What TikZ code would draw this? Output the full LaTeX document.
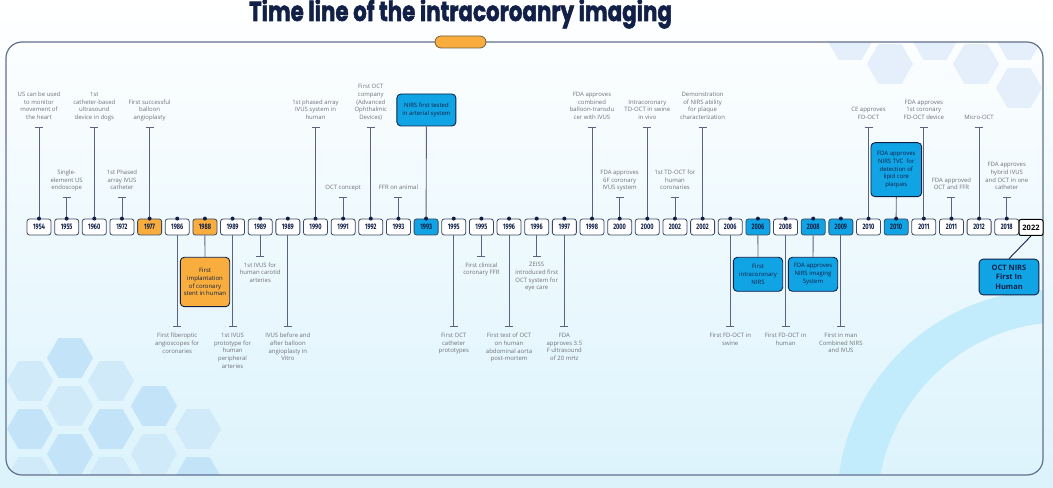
\documentclass[tikz,border=0pt]{standalone}
\usepackage{fontspec}
\setmainfont{Open Sans}
\newfontfamily\titlefont{Poppins}[BoldFeatures={FakeBold=2}]
\newfontfamily\yrfont{Fira Sans}
\usetikzlibrary{arrows.meta}
\definecolor{navy}{RGB}{18,32,72}
\definecolor{stemc}{RGB}{88,100,128}
\definecolor{lblc}{RGB}{112,114,120}
\definecolor{boxc}{RGB}{62,72,98}
\definecolor{orng}{RGB}{248,173,60}
\definecolor{blu}{RGB}{16,164,228}
\definecolor{framec}{RGB}{98,112,142}
\definecolor{bgbot}{RGB}{220,243,252}
\definecolor{bgmid}{RGB}{240,250,254}
\definecolor{hexa}{RGB}{208,234,250}
\definecolor{hexb}{RGB}{194,227,248}
\definecolor{hext}{RGB}{229,239,251}
\definecolor{ringc}{RGB}{194,236,251}
\definecolor{pillb}{RGB}{110,95,70}
\newcommand\Y[1]{\scalebox{0.7}[1]{\yrfont\bfseries #1}}
\tikzset{
 yearbox/.style={draw=boxc, line width=0.8bp, rounded corners=2.5bp, fill=white,
   minimum width=24bp, minimum height=16bp, inner sep=0pt, text=navy,
   font=\fontsize{8}{9}\selectfont},
 yw/.style={},
 yo/.style={fill=orng},
 yb/.style={fill=blu},
 lbl/.style={align=center, text=lblc, font=\fontsize{6}{7.7}\selectfont, inner sep=0pt},
 stem/.style={draw=stemc, line width=0.9bp},
 tstem/.style={stem, -{Bar[width=8bp]}},
 callout/.style={draw=navy, line width=0.9bp, rounded corners=4bp, align=center,
   text=navy, inner sep=1bp, font=\fontsize{6}{7.9}\selectfont},
}
\newcommand\UpLong[2]{%
  \coordinate (t#1) at (y#1.north |- hTa);
  \draw[tstem] (y#1.north) -- (t#1);
  \node[lbl, anchor=base] (l#1) at (y#1.north |- hLa) {#2};}
\newcommand\UpShort[2]{%
  \coordinate (t#1) at (y#1.north |- hTb);
  \draw[tstem] (y#1.north) -- (t#1);
  \node[lbl, anchor=base] (l#1) at (y#1.north |- hLb) {#2};}
\newcommand\DnLong[2]{%
  \coordinate (t#1) at (y#1.south |- hBa);
  \draw[tstem] (y#1.south) -- (t#1);
  \node[lbl, anchor=north] (l#1) at (y#1.south |- hMa) {#2};}
\newcommand\DnShort[2]{%
  \coordinate (t#1) at (y#1.south |- hBb);
  \draw[tstem] (y#1.south) -- (t#1);
  \node[lbl, anchor=north] (l#1) at (y#1.south |- hMb) {#2};}
\begin{document}
\begin{tikzpicture}[x=1bp,y=-1bp]
\useasboundingbox (0,0) rectangle (1053,488);
\shade[top color=white, middle color=bgmid, bottom color=bgbot] (0,0) rectangle (1053,488);
% decorations inside the frame
\begin{scope}
\clip[rounded corners=16bp] (6,42) rectangle (1043,475);
\foreach \x/\y/\c in {30/381/hexa,30/429/hexb,30/477/hexa,70/358/hexb,70/406/hexa,70/454/hexb,
  111/381/hexa,111/429/hexb,111/477/hexa,154/406/hexb,154/454/hexa,198/429/hexa,198/477/hexb,
  850/40/hext,890/64/hext,935/40/hext,976/64/hext,1019/40/hext,1019/88/hext}
  \fill[\c] (\x,\y) +(0:23) -- +(60:23) -- +(120:23) -- +(180:23) -- +(240:23) -- +(300:23) -- cycle;
\fill[ringc, even odd rule] (1051,504) circle (214) (1065,510) circle (188);
\end{scope}
\draw[framec, line width=1.2bp, rounded corners=16bp] (6,42) rectangle (1043,475);
\node[draw=pillb, line width=0.8bp, fill=orng, rounded corners=6bp, minimum width=51bp,
  minimum height=12bp, inner sep=0pt] (pill) at (460.5,42) {};
% title
\node[anchor=base, text=navy, inner sep=0pt] (title) at (460.5,21)
  {\resizebox{423bp}{\height}{\titlefont\bfseries\fontsize{27.5}{28}\selectfont Time line of the intracoroanry imaging}};
% helper levels
\coordinate (hTa) at (0,126.7);
\coordinate (hTb) at (0,196.7);
\coordinate (hLa) at (0,119.6);
\coordinate (hLb) at (0,190);
\coordinate (hBa) at (0,327.3);
\coordinate (hBb) at (0,256.7);
\coordinate (hMa) at (0,333);
\coordinate (hMb) at (0,262.3);
% year boxes
\foreach \yr/\st [count=\i from 0] in {1954/yw,1955/yw,1960/yw,1972/yw,1977/yo,1986/yw,1988/yo,
  1989/yw,1989/yw,1989/yw,1990/yw,1991/yw,1992/yw,1993/yw,1993/yb,1995/yw,1995/yw,1996/yw,
  1996/yw,1997/yw,1998/yw,2000/yw,2000/yw,2002/yw,2002/yw,2006/yw,2006/yb,2008/yw,2008/yb,
  2009/yb,2010/yw,2010/yb,2011/yw,2011/yw,2012/yw,2018/yw}
  \node[yearbox,\st] (y\i) at ({39+27.65*\i},227) {\Y{\yr}};
\node[draw=black, line width=1bp, rounded corners=2bp, fill=white, minimum width=24bp,
  minimum height=16bp, inner sep=0pt, text=black, font=\fontsize{7.5}{9}\selectfont]
  (y36) at (1031,227.5) {\textbf{2022}};
% upper events
\UpLong{0}{US can be used\\to monitor\\movement of\\the heart}
\UpLong{2}{1st\\catheter-based\\ultrasound\\device in dogs}
\UpLong{4}{First successful\\balloon\\angioplasty}
\UpLong{10}{1st phased array\\IVUS system in\\human}
\UpLong{12}{First OCT\\company\\(Advanced\\Ophthalmic\\Devices)}
\UpLong{20}{FDA approves\\combined\\balloon-transdu\\cer with IVUS}
\UpLong{22}{Intracoronary\\TD-OCT in swine\\in vivo}
\UpLong{24}{Demonstration\\of NIRS ability\\for plaque\\characterization}
\UpLong{30}{CE approves\\FD-OCT}
\UpLong{32}{FDA approves\\1st coronary\\FD-OCT device}
\UpLong{34}{Micro-OCT}
\UpShort{1}{Single-\\element US\\endoscope}
\UpShort{3}{1st Phased\\array IVUS\\catheter}
\UpShort{11}{OCT concept}
\UpShort{13}{FFR on animal}
\UpShort{21}{FDA approves\\6F coronary\\IVUS system}
\UpShort{23}{1st TD-OCT for\\human\\coronaries}
\UpShort{33}{FDA approved\\OCT and FFR}
\UpShort{35}{FDA approves\\hybrid IVUS\\and OCT in one\\catheter}
% lower events
\DnLong{5}{First fiberoptic\\angioscopes for\\coronaries}
\DnLong{7}{1st IVUS\\prototype for\\human\\peripheral\\arteries}
\DnLong{9}{IVUS before and\\after balloon\\angioplasty in\\Vitro}
\DnLong{15}{First OCT\\catheter\\prototypes}
\DnLong{17}{First test of OCT\\on human\\abdominal aorta\\post-mortem}
\DnLong{19}{FDA\\approves 3.5\\F ultrasound\\of 20 mHz}
\DnLong{25}{First FD-OCT in\\swine}
\DnLong{27}{First FD-OCT in\\human}
\DnLong{29}{First in man\\Combined NIRS\\and IVUS}
\DnShort{8}{1st IVUS for\\human carotid\\arteries}
\DnShort{16}{First clinical\\coronary FFR}
\DnShort{18}{ZEISS\\introduced first\\OCT system for\\eye care}
% callouts
\node[callout, fill=blu, minimum width=59bp, minimum height=32bp] (c14) at (426.4,110) {NIRS first tested\\in arterial system};
\draw[stem] (y14.north) -- (c14.south);
\node[callout, fill=orng, minimum width=49.4bp, minimum height=49.4bp] (c6) at (205,282) {First\\implantation\\of coronary\\stent in human};
\draw[stem] (y6.south) -- (c6.north);
\node[callout, fill=blu, minimum width=49.4bp, minimum height=34bp] (c26) at (758,274.3) {First\\intracoronary\\NIRS};
\draw[stem] (y26.south) -- (c26.north);
\node[callout, fill=blu, minimum width=49.4bp, minimum height=34bp] (c28) at (813,274.3) {FDA approves\\NIRS imaging\\System};
\draw[stem] (y28.south) -- (c28.north);
\node[callout, fill=blu, minimum width=50.7bp, minimum height=54bp] (c31) at (896.3,169.7) {FDA approves\\NIRS TVC\ \ for\\detection of\\lipid core\\plaques};
\draw[stem] (y31.north) -- (c31.south);
\node[callout, fill=blu, minimum width=59.7bp, minimum height=35.7bp, font=\fontsize{7.5}{9.6}\selectfont\bfseries] (c36) at (1009,277) {OCT NIRS\\First In\\Human};
\draw[navy, line width=0.9bp] (y36.south) -- (c36.north);
% dots on year boxes
\foreach \i in {0,...,35} \fill[navy] (y\i.north) circle (2bp);
\end{tikzpicture}
\end{document}
